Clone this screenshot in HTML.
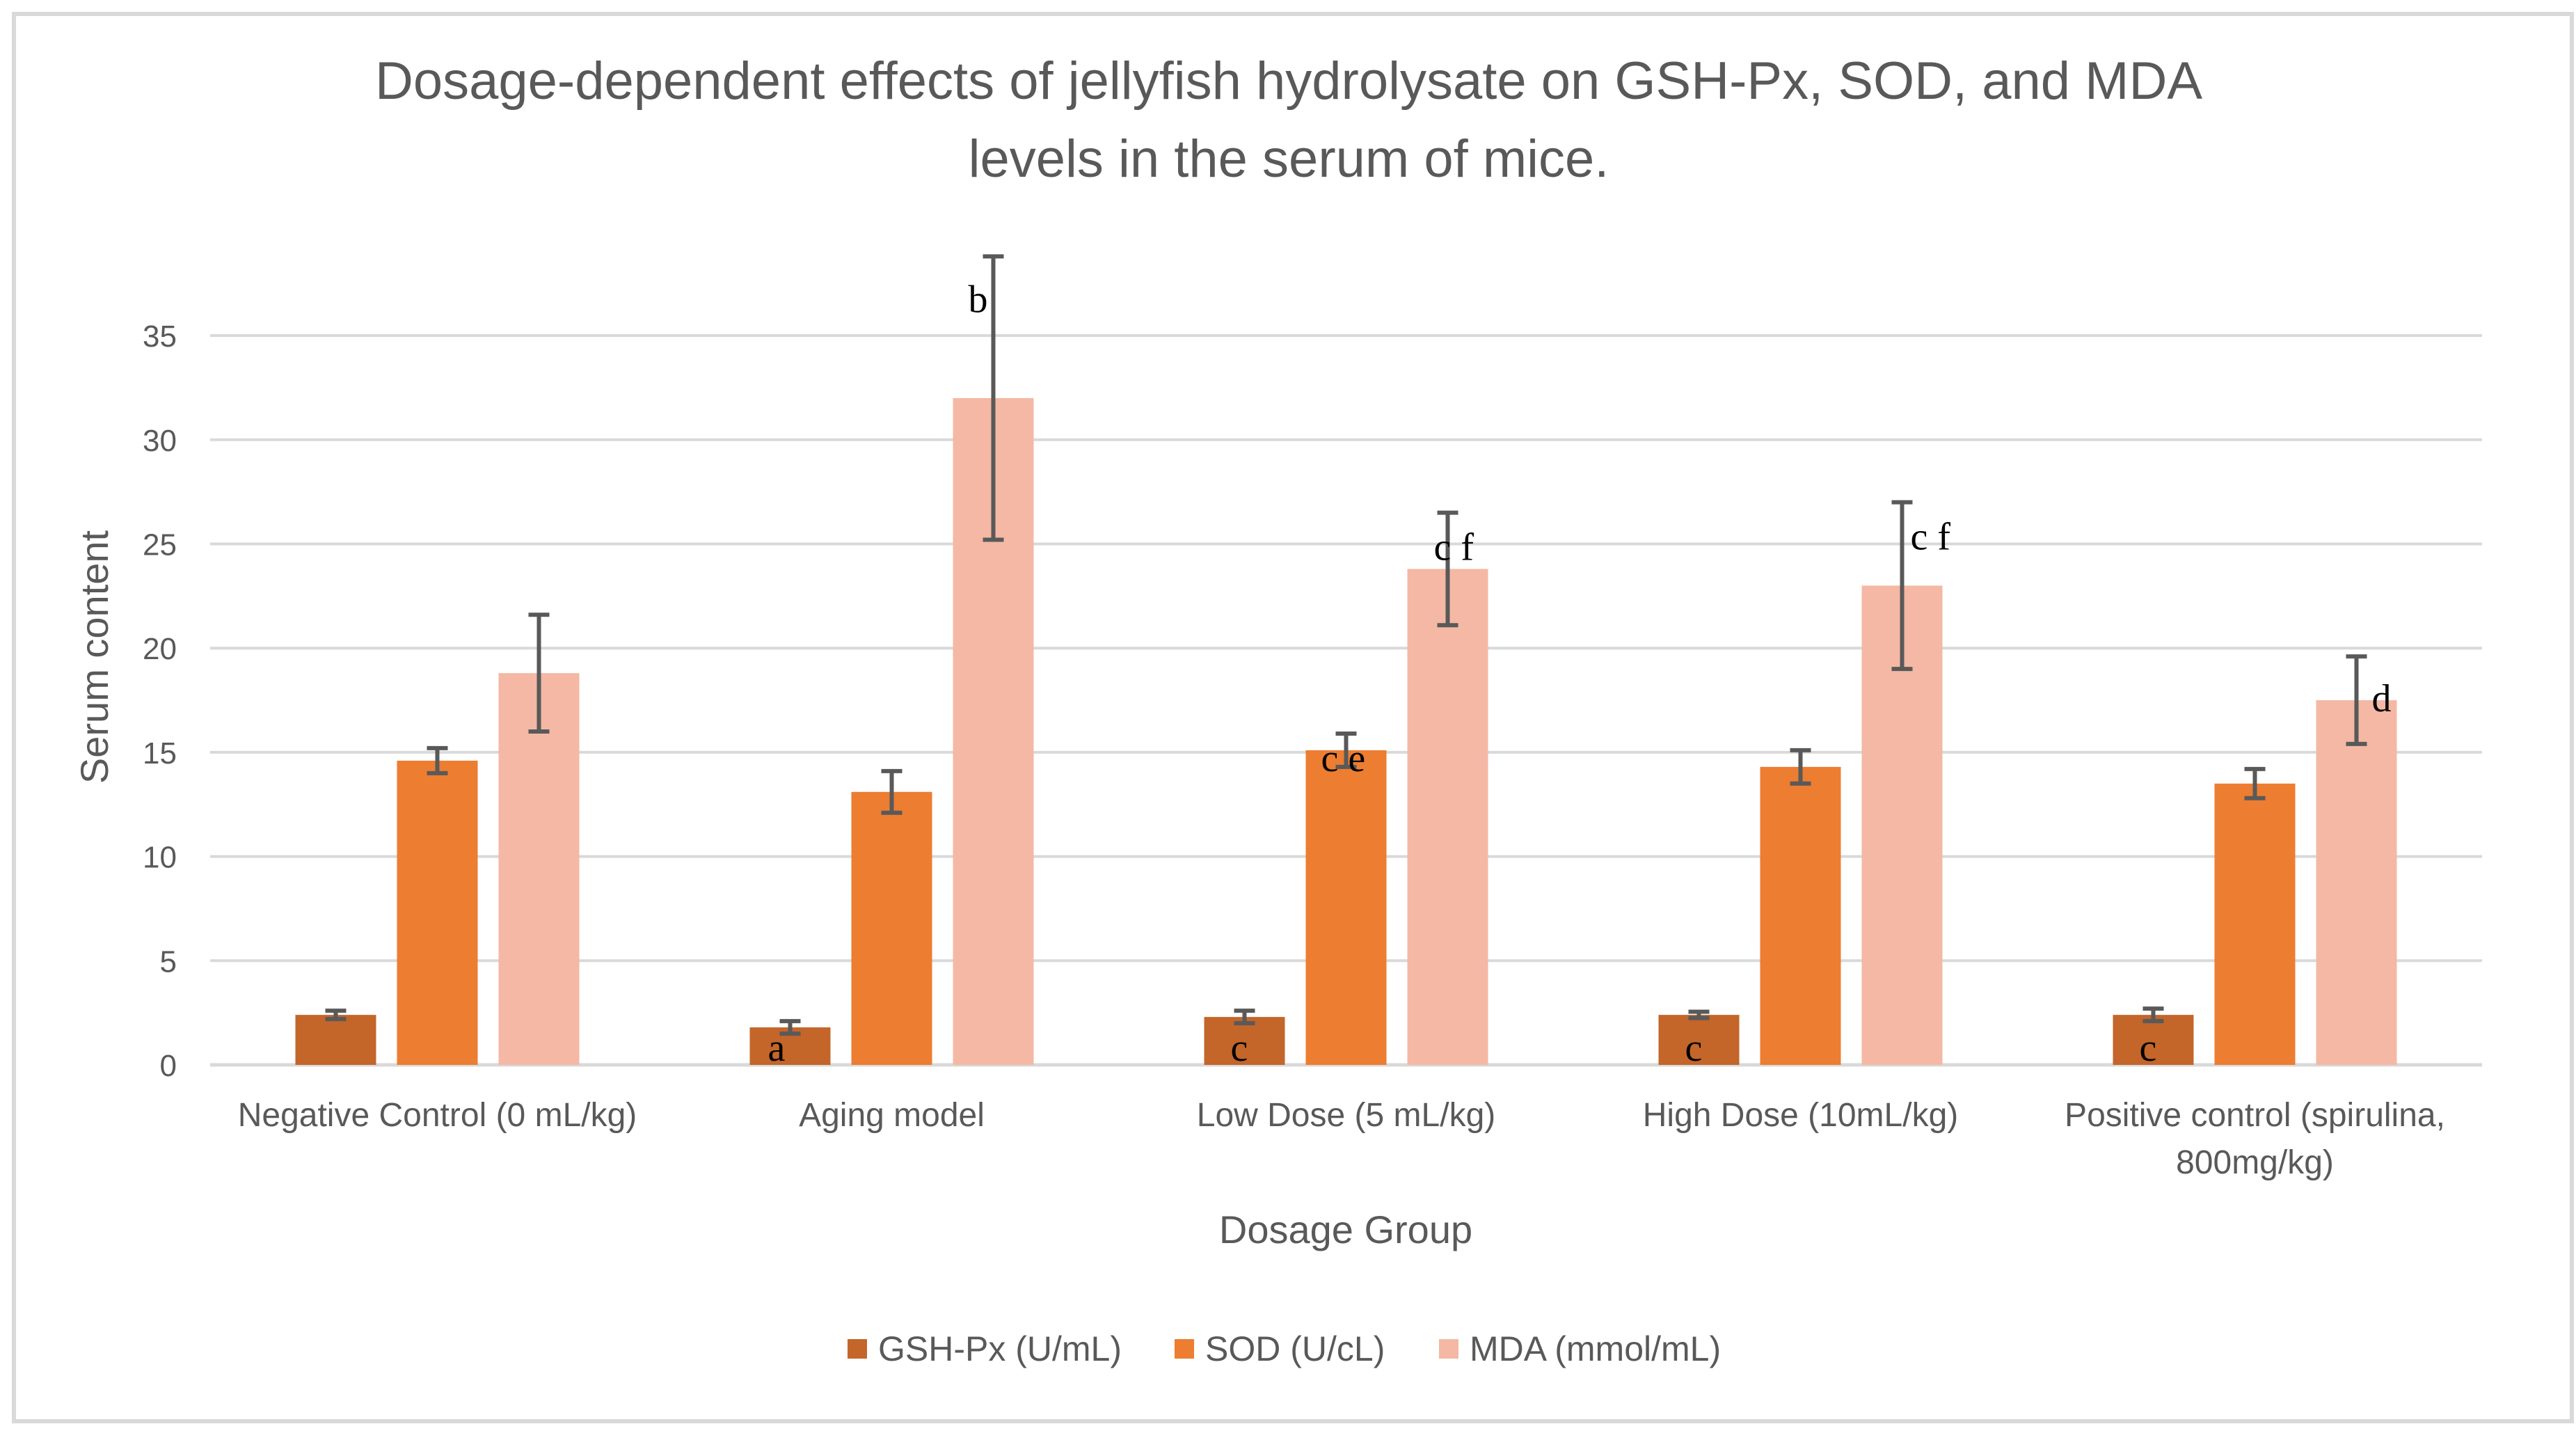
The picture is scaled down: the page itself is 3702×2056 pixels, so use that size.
<!DOCTYPE html>
<html><head><meta charset="utf-8"><style>
html,body{margin:0;padding:0;background:#fff;}
svg{display:block;font-family:"Liberation Sans",sans-serif;}
</style></head><body>
<svg id="chart" width="3702" height="2056" viewBox="0 0 3702 2056" xmlns="http://www.w3.org/2000/svg">
<rect x="20" y="20" width="3676" height="2022" fill="#fff" stroke="#d9d9d9" stroke-width="6"/>
<text x="1852" y="142" text-anchor="middle" font-size="76" fill="#595959">Dosage-dependent effects of jellyfish hydrolysate on GSH-Px, SOD, and MDA</text>
<text x="1852" y="254" text-anchor="middle" font-size="76" fill="#595959">levels in the serum of mice.</text>
<g id="grid"></g><g id="bars"></g><g id="errs"></g><g id="notes"></g><g id="axes"></g>
<text transform="translate(155,944) rotate(-90)" text-anchor="middle" font-size="56" fill="#595959">Serum content</text>
<text x="1934" y="1786" text-anchor="middle" font-size="56" fill="#595959">Dosage Group</text>
<g id="legend"></g>
</svg>
<script>
const categories = [["Negative Control (0 mL/kg)"],["Aging model"],["Low Dose (5 mL/kg)"],["High Dose (10mL/kg)"],["Positive control (spirulina,","800mg/kg)"]];
const seriesNames = ["GSH-Px (U/mL)","SOD (U/cL)","MDA (mmol/mL)"];
const gshValues = [2.4,1.8,2.3,2.4,2.4];
const sodValues = [14.6,13.1,15.1,14.3,13.5];
const mdaValues = [18.8,32.0,23.8,23.0,17.5];
const gshErr = [0.2,0.3,0.3,0.15,0.3];
const sodErr = [0.6,1.0,0.8,0.8,0.7];
const mdaErr = [2.8,6.8,2.7,4.0,2.1];
const yTicks = [0,5,10,15,20,25,30,35];
const annotations = [[null,"a","c","c","c"],[null,null,"c e",null,null],[null,"b","c f","c f","d"]];
const colors = ["#c4652a","#ed7d31","#f4b8a4"];
const NS="http://www.w3.org/2000/svg";
const X0=302,X1=3567,Y0=1530,PER=29.94;
const y=v=>Y0-v*PER;
const gw=(X1-X0)/categories.length;
const bw=116,pitch=146;
const bx=(i,s)=>X0+gw*(i+0.5)+(s-1)*pitch-bw/2;
function mk(tag,attrs,parent){const e=document.createElementNS(NS,tag);for(const k in attrs)e.setAttribute(k,attrs[k]);document.getElementById(parent).appendChild(e);return e;}
yTicks.forEach(t=>{
  const l=mk('line',{x1:X0,x2:X1,y1:y(t),y2:y(t),stroke:'#d9d9d9','stroke-width':t===0?5:4},'grid');
  
  
  const tx=mk('text',{x:254,y:y(t)+16,'text-anchor':'end','font-size':44,fill:'#595959'},'axes');
  tx.textContent=t;
  
  
});
const vals=[gshValues,sodValues,mdaValues],errs=[gshErr,sodErr,mdaErr];
categories.forEach((c,i)=>{
  c.forEach((line,k)=>{
    const t=mk('text',{x:X0+gw*(i+0.5),y:1618+k*68,'text-anchor':'middle','font-size':48,fill:'#595959'},'axes');
    t.textContent=line;
    
    
  });
  for(let s=0;s<3;s++){
    const v=vals[s][i],e=errs[s][i],x=bx(i,s);
    const r=mk('rect',{x:x,y:y(v),width:bw,height:Y0-y(v),fill:colors[s]},'bars');
    
    
    const cx=x+bw/2;
    const p=mk('path',{d:`M${cx},${y(v+e)}V${y(v-e)}M${cx-15},${y(v+e)}H${cx+15}M${cx-15},${y(v-e)}H${cx+15}`,stroke:'#595959','stroke-width':6,fill:'none'},'errs');
    
    
    const a=annotations[s][i];
    if(a){
      const tt=mk('text',{'font-family':'"Liberation Serif",serif','font-size':56,fill:'#000'},'notes');
      let tx,ty;
      if(s===0){tx=(i===1?cx-32:cx-20);ty=Y0-6;}
      else if(s===1){tx=cx-36;ty=y(v)+30;}
      else if(i===1){tx=cx-36;ty=y(v+e)+80;}
      else if(i===2){tx=cx-20;ty=y(v+e)+68;}
      else if(i===3){tx=cx+12;ty=y(v+e)+68;}
      else {tx=cx+22;ty=y(v)+16;}
      tt.setAttribute('x',tx);
      tt.setAttribute('y',ty);
      tt.textContent=a;
      
      
    }
  }
});
const lx=[1218,1688,2068];
seriesNames.forEach((n,s)=>{
  const r=mk('rect',{x:lx[s],y:1924,width:28,height:28,fill:colors[s]},'legend');
  
  
  const t=mk('text',{x:lx[s]+44,y:1955,'font-size':50,fill:'#595959'},'legend');
  t.textContent=n;
  
  
});
</script>
</body></html>
